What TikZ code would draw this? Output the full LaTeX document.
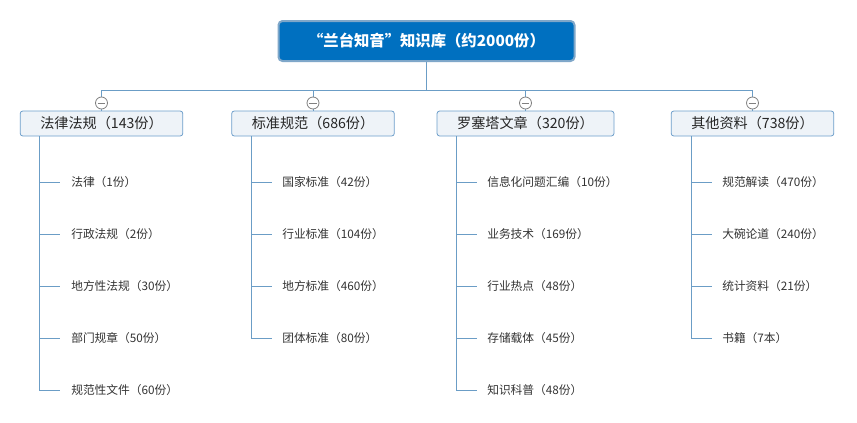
\documentclass[tikz,border=0pt]{standalone}
\usepackage{fontspec}
\newfontfamily\cjk{Noto Sans CJK SC}
\usepackage{tikz}
\usetikzlibrary{positioning}
\definecolor{rootblue}{HTML}{0070C0}
\definecolor{rootedge}{HTML}{7FA7C9}
\definecolor{linkblue}{HTML}{6B9DC6}
\definecolor{catfill}{HTML}{EEF3F8}
\definecolor{catedge}{HTML}{6E9FCB}
\definecolor{leaftext}{HTML}{333333}

\begin{document}
\begin{tikzpicture}[
  x=0.75pt, y=-0.75pt,
  font=\cjk,
  rootbox/.style={rectangle, rounded corners=3pt, draw=rootedge, line width=1.5pt, fill=rootblue,
                  text=white, minimum width=222pt, minimum height=30pt,
                  font=\cjk\bfseries\fontsize{11.5}{14}\selectfont},
  catbox/.style={rectangle, rounded corners=2pt, draw=catedge, line width=0.6pt, fill=catfill,
                 text=black!85, minimum width=122pt, minimum height=18.75pt,
                 font=\cjk\fontsize{10.6}{12}\selectfont},
  leaf/.style={anchor=west, inner sep=1.5pt, text=leaftext, font=\cjk\fontsize{8.8}{10}\selectfont},
  toggle/.style={circle, draw=black!50, fill=white, line width=0.6pt, minimum size=9pt, inner sep=0pt,
                 path picture={\draw[black!50, line width=0.6pt]
                   ([xshift=1.6pt]path picture bounding box.west) -- ([xshift=-1.6pt]path picture bounding box.east);}},
  link/.style={draw=linkblue, line width=0.75pt},
]
\useasboundingbox[fill=white] (0,0) rectangle (857,422);

% root and branches
\node[rootbox] (root) at (426.5,41) {“兰台知音”知识库（约2000份）};
\coordinate (bus) at (426.5,90);

\node[catbox] (law) at (101.5,123.5) {法律法规（143份）};
\node[catbox] (std) at (313,123.5)   {标准规范（686份）};
\node[catbox, minimum width=132.75pt] (art) at (525.5,123.5) {罗塞塔文章（320份）};
\node[catbox] (oth) at (752.5,123.5) {其他资料（738份）};

\draw[link] (root.south) -- (bus);
\draw[link] (law.north) |- (bus);
\draw[link] (std.north) |- (bus);
\draw[link] (art.north) |- (bus);
\draw[link] (oth.north) |- (bus);

\node[toggle] (tlaw) at (101.5,103) {};
\node[toggle] (tstd) at (313,103)   {};
\node[toggle] (tart) at (525.5,103) {};
\node[toggle] (toth) at (752.5,103) {};

% leaves
\node[leaf] (law1) at (69,182) {法律（1份）};
\node[leaf] (law2) at (69,234) {行政法规（2份）};
\node[leaf] (law3) at (69,286) {地方性法规（30份）};
\node[leaf] (law4) at (69,338) {部门规章（50份）};
\node[leaf] (law5) at (69,390) {规范性文件（60份）};

\node[leaf] (std1) at (280,182) {国家标准（42份）};
\node[leaf] (std2) at (280,234) {行业标准（104份）};
\node[leaf] (std3) at (280,286) {地方标准（460份）};
\node[leaf] (std4) at (280,338) {团体标准（80份）};

\node[leaf] (art1) at (485,182) {信息化问题汇编（10份）};
\node[leaf] (art2) at (485,234) {业务技术（169份）};
\node[leaf] (art3) at (485,286) {行业热点（48份）};
\node[leaf] (art4) at (485,338) {存储载体（45份）};
\node[leaf] (art5) at (485,390) {知识科普（48份）};

\node[leaf] (oth1) at (720,182) {规范解读（470份）};
\node[leaf] (oth2) at (720,234) {大碗论道（240份）};
\node[leaf] (oth3) at (720,286) {统计资料（21份）};
\node[leaf] (oth4) at (720,338) {书籍（7本）};

\draw[link] ([xshift=15pt]law.south west) |- ([xshift=-6.75pt]law1.west);
\draw[link] ([xshift=15pt]law.south west) |- ([xshift=-6.75pt]law2.west);
\draw[link] ([xshift=15pt]law.south west) |- ([xshift=-6.75pt]law3.west);
\draw[link] ([xshift=15pt]law.south west) |- ([xshift=-6.75pt]law4.west);
\draw[link] ([xshift=15pt]law.south west) |- ([xshift=-6.75pt]law5.west);

\draw[link] ([xshift=15pt]std.south west) |- ([xshift=-6pt]std1.west);
\draw[link] ([xshift=15pt]std.south west) |- ([xshift=-6pt]std2.west);
\draw[link] ([xshift=15pt]std.south west) |- ([xshift=-6pt]std3.west);
\draw[link] ([xshift=15pt]std.south west) |- ([xshift=-6pt]std4.west);

\draw[link] ([xshift=15pt]art.south west) |- ([xshift=-6pt]art1.west);
\draw[link] ([xshift=15pt]art.south west) |- ([xshift=-6pt]art2.west);
\draw[link] ([xshift=15pt]art.south west) |- ([xshift=-6pt]art3.west);
\draw[link] ([xshift=15pt]art.south west) |- ([xshift=-6pt]art4.west);
\draw[link] ([xshift=15pt]art.south west) |- ([xshift=-6pt]art5.west);

\draw[link] ([xshift=15.5pt]oth.south west) |- ([xshift=-6pt]oth1.west);
\draw[link] ([xshift=15.5pt]oth.south west) |- ([xshift=-6pt]oth2.west);
\draw[link] ([xshift=15.5pt]oth.south west) |- ([xshift=-6pt]oth3.west);
\draw[link] ([xshift=15.5pt]oth.south west) |- ([xshift=-6pt]oth4.west);

\end{tikzpicture}
\end{document}
